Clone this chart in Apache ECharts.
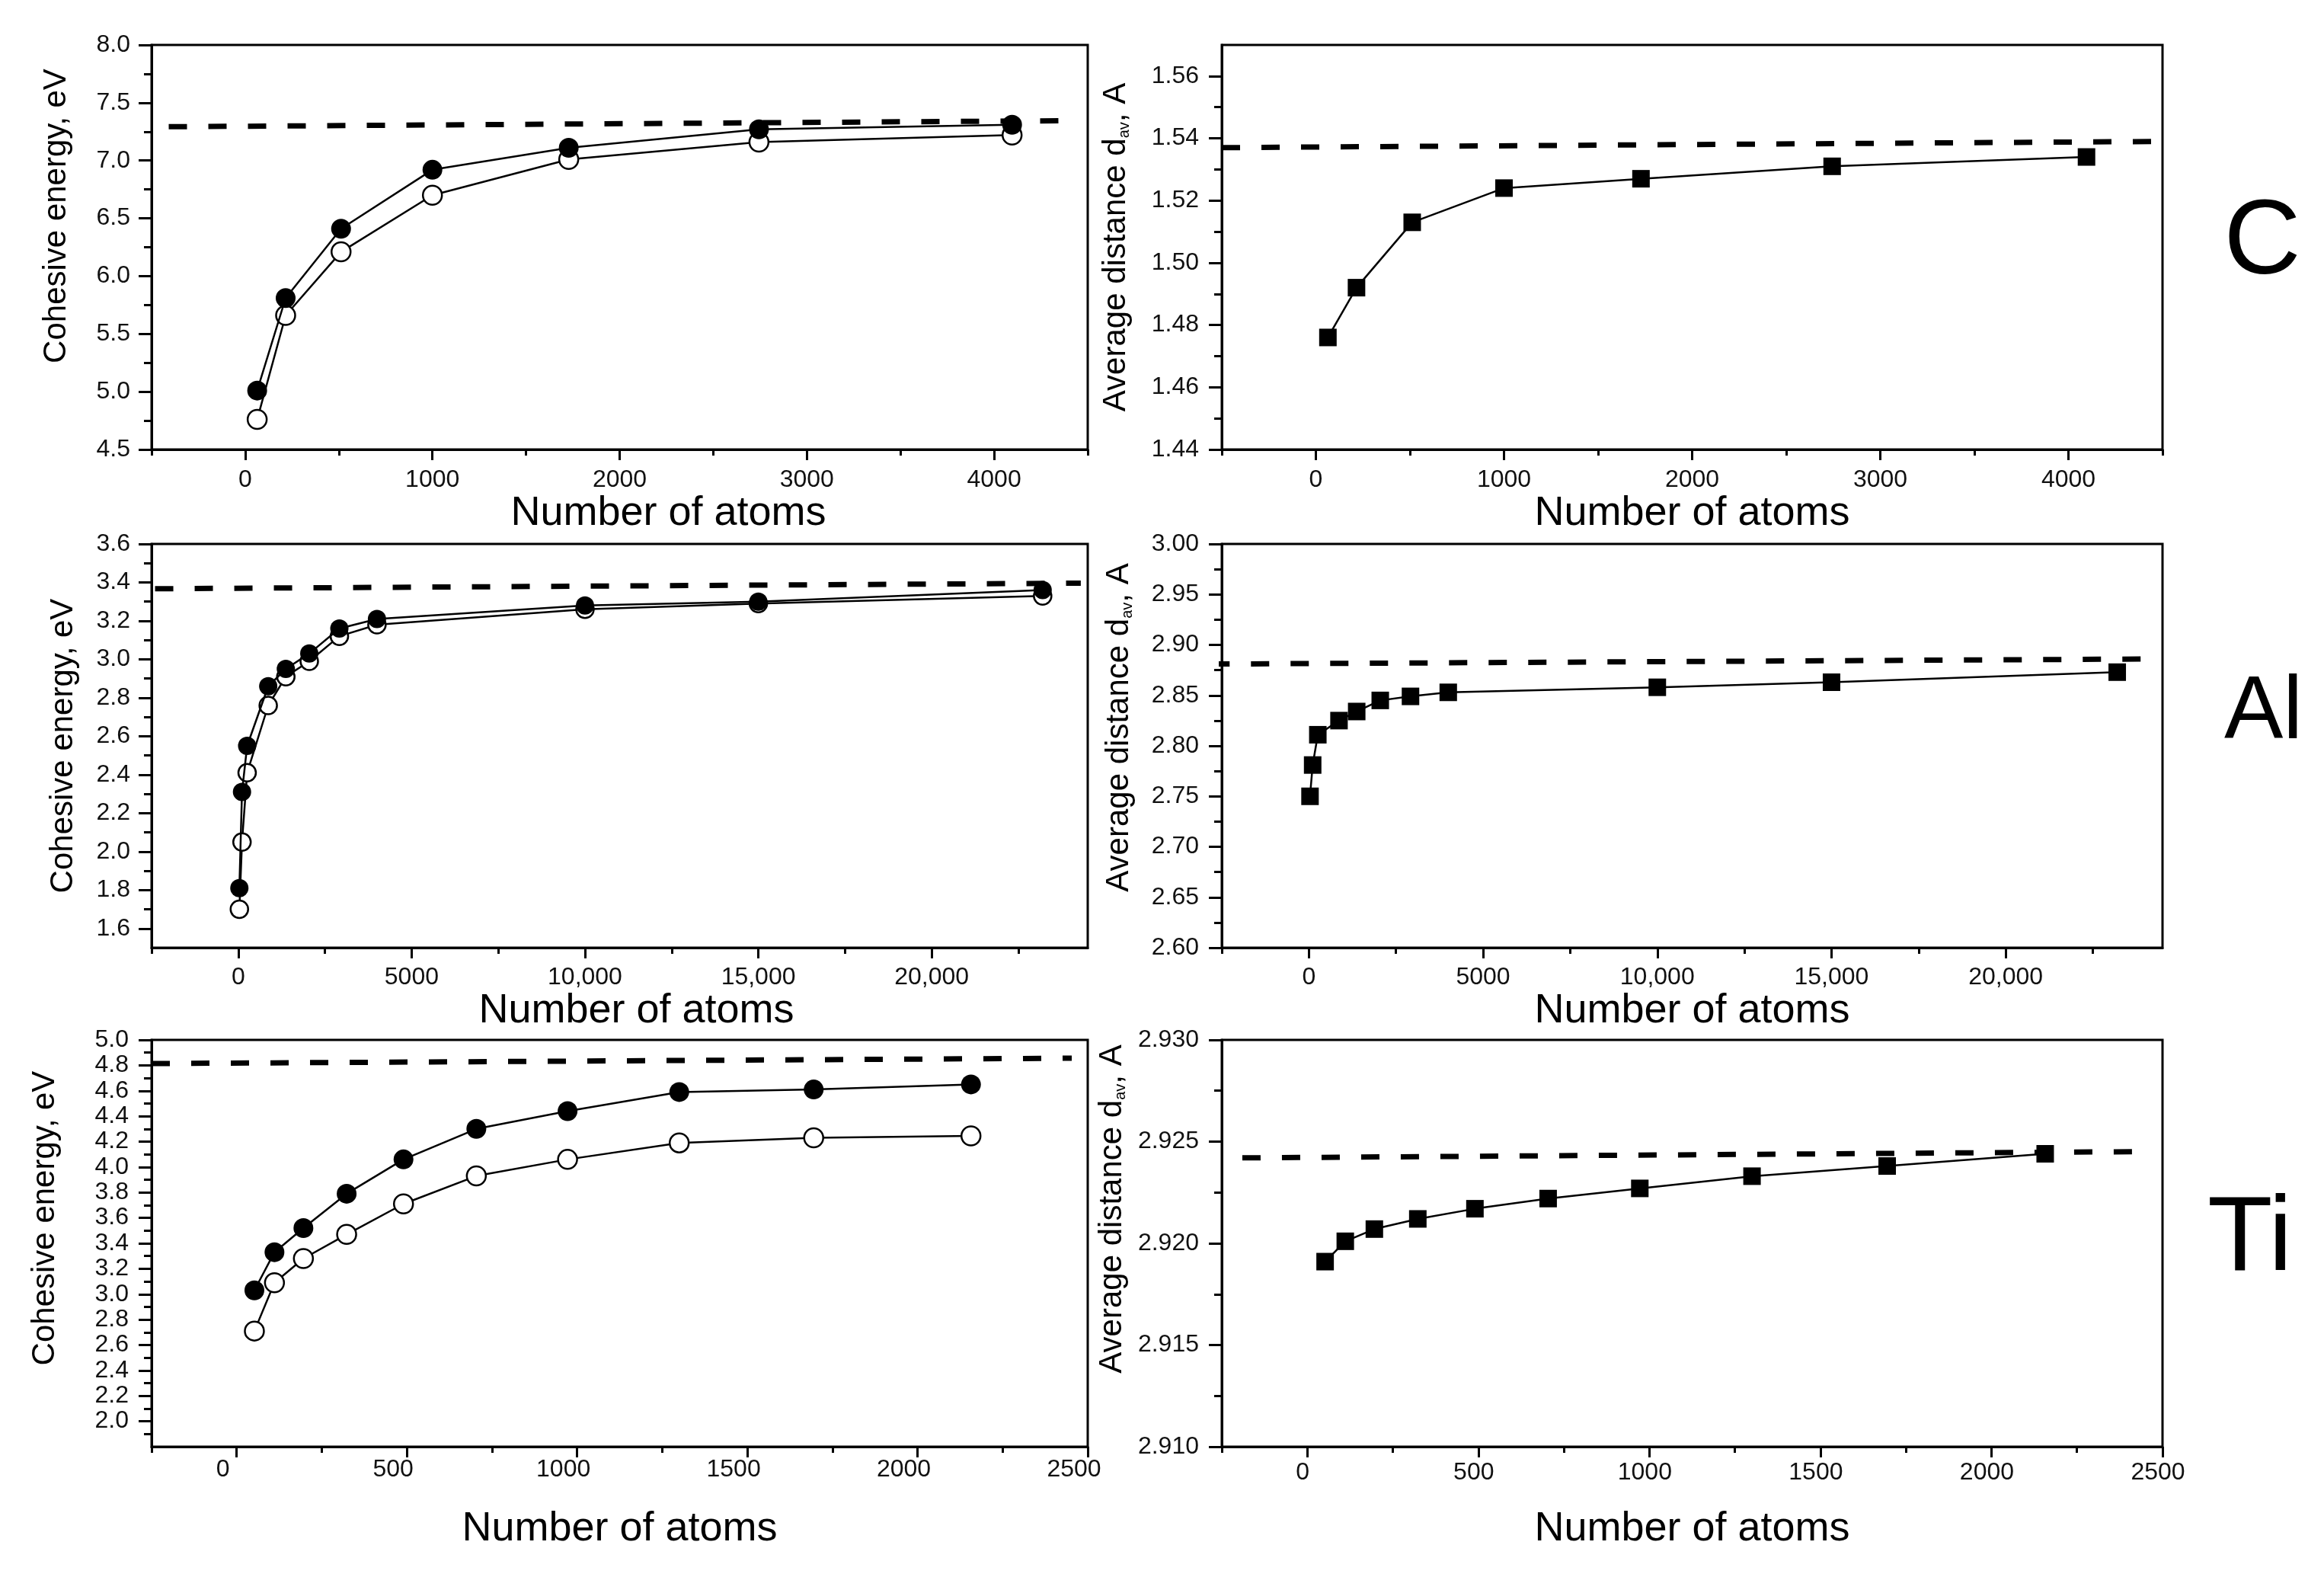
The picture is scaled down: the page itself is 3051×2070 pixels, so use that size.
<!DOCTYPE html>
<html>
<head>
<meta charset="utf-8">
<script src="https://cdn.jsdelivr.net/npm/echarts@6/dist/echarts.min.js"></script>
<style>
html,body{margin:0;padding:0;background:#fff;}
#chart{width:3051px;height:2070px;}
</style>
</head>
<body>
<div id="chart"></div>
<script>
// ---------------- DATA ----------------
// Carbon
const cAtoms = [64, 216, 512, 1000, 1728, 2744, 4096];
const cEnergyFilled = [5.01, 5.81, 6.41, 6.92, 7.11, 7.27, 7.31];
const cEnergyOpen = [4.76, 5.66, 6.21, 6.70, 7.01, 7.16, 7.22];
const cDistance = [1.476, 1.492, 1.513, 1.524, 1.527, 1.531, 1.534];
const cEnergyRefX = [-620, 4400];
const cEnergyRefY = [7.29, 7.345];
const cDistRefX = [-500, 4500];
const cDistRefY = [1.537, 1.539];

// Aluminium
const alAtoms = [32, 108, 256, 864, 1372, 2048, 2916, 4000, 10000, 15000, 23200];
const alEnergyFilled = [1.81, 2.31, 2.55, 2.86, 2.95, 3.03, 3.16, 3.21, 3.28, 3.30, 3.36];
const alEnergyOpen = [1.70, 2.05, 2.41, 2.76, 2.91, 2.99, 3.12, 3.18, 3.26, 3.29, 3.33];
const alDistance = [2.750, 2.781, 2.811, 2.825, 2.834, 2.845, 2.849, 2.853, 2.858, 2.863, 2.873];
const alEnergyRefX = [-2400, 24300];
const alEnergyRefY = [3.367, 3.396];
const alDistRefX = [-2800, 24000];
const alDistRefY = [2.881, 2.886];

// Titanium
const tiAtoms = [52, 111, 196, 323, 490, 704, 972, 1300, 1695, 2157];
const tiEnergyFilled = [3.03, 3.33, 3.52, 3.79, 4.06, 4.30, 4.44, 4.59, 4.61, 4.65];
const tiEnergyOpen = [2.71, 3.09, 3.28, 3.47, 3.71, 3.93, 4.06, 4.19, 4.23, 4.245];
const tiDistance = [2.9191, 2.9201, 2.9207, 2.9212, 2.9217, 2.9222, 2.9227, 2.9233, 2.9238, 2.9244];
const tiEnergyRefX = [-250, 2453];
const tiEnergyRefY = [4.814, 4.856];
const tiDistRefX = [-190, 2465];
const tiDistRefY = [2.9242, 2.92451];

// ---------------- TICKS ----------------
const cXTicks = [0, 1000, 2000, 3000, 4000];
const cXTickLabels = ['0', '1000', '2000', '3000', '4000'];
const cXMinor = [-500, 500, 1500, 2500, 3500, 4500];
const cEYTicks = [4.5, 5.0, 5.5, 6.0, 6.5, 7.0, 7.5, 8.0];
const cEYTickLabels = ['4.5', '5.0', '5.5', '6.0', '6.5', '7.0', '7.5', '8.0'];
const cEYMinor = [4.75, 5.25, 5.75, 6.25, 6.75, 7.25, 7.75];
const cDYTicks = [1.44, 1.46, 1.48, 1.50, 1.52, 1.54, 1.56];
const cDYTickLabels = ['1.44', '1.46', '1.48', '1.50', '1.52', '1.54', '1.56'];
const cDYMinor = [1.45, 1.47, 1.49, 1.51, 1.53, 1.55];

const alXTicks = [0, 5000, 10000, 15000, 20000];
const alXTickLabels = ['0', '5000', '10,000', '15,000', '20,000'];
const alXMinor = [-2500, 2500, 7500, 12500, 17500, 22500];
const alEYTicks = [1.6, 1.8, 2.0, 2.2, 2.4, 2.6, 2.8, 3.0, 3.2, 3.4, 3.6];
const alEYTickLabels = ['1.6', '1.8', '2.0', '2.2', '2.4', '2.6', '2.8', '3.0', '3.2', '3.4', '3.6'];
const alEYMinor = [1.7, 1.9, 2.1, 2.3, 2.5, 2.7, 2.9, 3.1, 3.3, 3.5];
const alDYTicks = [2.60, 2.65, 2.70, 2.75, 2.80, 2.85, 2.90, 2.95, 3.00];
const alDYTickLabels = ['2.60', '2.65', '2.70', '2.75', '2.80', '2.85', '2.90', '2.95', '3.00'];
const alDYMinor = [2.625, 2.675, 2.725, 2.775, 2.825, 2.875, 2.925, 2.975];

const tiXTicks = [0, 500, 1000, 1500, 2000, 2500];
const tiXTickLabels = ['0', '500', '1000', '1500', '2000', '2500'];
const tiXMinor = [-250, 250, 750, 1250, 1750, 2250];
const tiEYTicks = [2.0, 2.2, 2.4, 2.6, 2.8, 3.0, 3.2, 3.4, 3.6, 3.8, 4.0, 4.2, 4.4, 4.6, 4.8, 5.0];
const tiEYTickLabels = ['2.0', '2.2', '2.4', '2.6', '2.8', '3.0', '3.2', '3.4', '3.6', '3.8', '4.0', '4.2', '4.4', '4.6', '4.8', '5.0'];
const tiEYMinor = [1.9, 2.1, 2.3, 2.5, 2.7, 2.9, 3.1, 3.3, 3.5, 3.7, 3.9, 4.1, 4.3, 4.5, 4.7, 4.9];
const tiDYTicks = [2.910, 2.915, 2.920, 2.925, 2.930];
const tiDYTickLabels = ['2.910', '2.915', '2.920', '2.925', '2.930'];
const tiDYMinor = [2.9125, 2.9175, 2.9225, 2.9275];

// ---------------- BUILD ----------------
const FONT = '"Liberation Sans", Arial, Helvetica, sans-serif';
const BLACK = '#000';

function lookup(vals, labels) {
  return function (v) {
    for (let i = 0; i < vals.length; i++) {
      if (Math.abs(vals[i] - v) < 1e-7) return labels[i];
    }
    return '';
  };
}

const xAxes = [];
const yAxes = [];
const grids = [];
const series = [];

function addPanel(p) {
  const gi = grids.length;
  grids.push({
    left: p.grid[0], top: p.grid[1], width: p.grid[2], height: p.grid[3],
    show: true, borderColor: BLACK, borderWidth: 3, backgroundColor: 'transparent'
  });
  const xi = xAxes.length;
  xAxes.push({
    type: 'value', gridIndex: gi, min: p.xMin, max: p.xMax, position: 'bottom',
    axisLine: { show: true, onZero: false, lineStyle: { color: BLACK, width: 3 } },
    axisTick: { show: true, customValues: p.xTicks, length: 14, lineStyle: { color: BLACK, width: 3 } },
    axisLabel: {
      show: true, customValues: p.xTicks, formatter: lookup(p.xTicks, p.xLabels),
      fontSize: 32, fontFamily: FONT, color: '#111', margin: p.xLabelMargin,
      padding: p.xLabelPad || 0
    },
    splitLine: { show: false },
    name: 'Number of atoms', nameLocation: 'middle', nameGap: p.xNameGap,
    nameTextStyle: { fontSize: 54, fontFamily: FONT, color: BLACK, padding: p.xNamePad || 0 }
  });
  xAxes.push({
    type: 'value', gridIndex: gi, min: p.xMin, max: p.xMax, position: 'bottom',
    axisLine: { show: false, onZero: false },
    axisTick: { show: true, customValues: p.xMinor, length: 8, lineStyle: { color: BLACK, width: 3 } },
    axisLabel: { show: false },
    splitLine: { show: false }
  });
  const yi = yAxes.length;
  yAxes.push({
    type: 'value', gridIndex: gi, min: p.yMin, max: p.yMax, position: 'left',
    axisLine: { show: true, onZero: false, lineStyle: { color: BLACK, width: 3 } },
    axisTick: { show: true, customValues: p.yTicks, length: 17, lineStyle: { color: BLACK, width: 3 } },
    axisLabel: {
      show: true, customValues: p.yTicks, formatter: lookup(p.yTicks, p.yLabels),
      fontSize: 32, fontFamily: FONT, color: '#111', margin: p.yLabelMargin
    },
    splitLine: { show: false },
    name: p.yName, nameLocation: 'middle', nameGap: p.yNameGap,
    nameTextStyle: {
      fontSize: 42, fontFamily: FONT, color: BLACK, padding: p.yNamePad || 0,
      rich: { s: { fontSize: 20, fontFamily: FONT, color: BLACK, verticalAlign: 'bottom' } }
    }
  });
  yAxes.push({
    type: 'value', gridIndex: gi, min: p.yMin, max: p.yMax, position: 'left',
    axisLine: { show: false, onZero: false },
    axisTick: { show: true, customValues: p.yMinor, length: 10, lineStyle: { color: BLACK, width: 3 } },
    axisLabel: { show: false },
    splitLine: { show: false }
  });

  // dashed reference line
  series.push({
    type: 'line', xAxisIndex: xi, yAxisIndex: yi, symbol: 'none', clip: false, silent: true,
    data: p.refX.map((x, i) => [x, p.refY[i]]),
    lineStyle: { color: BLACK, width: 7, type: [24, 28] }, z: 2
  });
  p.marks.forEach(m => {
    series.push({
      type: 'line', xAxisIndex: xi, yAxisIndex: yi,
      data: p.atoms.map((x, i) => [x, m.values[i]]),
      symbol: m.symbol, symbolSize: m.size, showAllSymbol: true,
      lineStyle: { color: BLACK, width: 2.5 },
      itemStyle: { color: m.fill, borderColor: BLACK, borderWidth: m.border },
      z: m.z
    });
  });
}

const LX = 199, RX = 1604, LW = 1229, RW = 1235;
const yNameC = 'Cohesive energy, eV';
const yNameD = 'Average distance d{s|av}, A';

// Row 1: Carbon
addPanel({
  grid: [LX, 59, LW, 531], xMin: -500, xMax: 4500, xTicks: cXTicks, xLabels: cXTickLabels, xMinor: cXMinor,
  yMin: 4.5, yMax: 8.0, yTicks: cEYTicks, yLabels: cEYTickLabels, yMinor: cEYMinor,
  xLabelMargin: 24, xNameGap: 51, xNamePad: [0, 0, 0, 128],
  yLabelMargin: 28, yName: yNameC, yNameGap: 104, yNamePad: [0, 0, 0, 82],
  refX: cEnergyRefX, refY: cEnergyRefY, atoms: cAtoms,
  marks: [
    { values: cEnergyOpen, symbol: 'circle', size: 25, fill: '#fff', border: 2.5, z: 3 },
    { values: cEnergyFilled, symbol: 'circle', size: 26, fill: BLACK, border: 0, z: 4 }
  ]
});
addPanel({
  grid: [RX, 59, RW, 531], xMin: -500, xMax: 4500, xTicks: cXTicks, xLabels: cXTickLabels, xMinor: cXMinor,
  yMin: 1.44, yMax: 1.57, yTicks: cDYTicks, yLabels: cDYTickLabels, yMinor: cDYMinor,
  xLabelMargin: 24, xNameGap: 54,
  yLabelMargin: 30, yName: yNameD, yNameGap: 118,
  refX: cDistRefX, refY: cDistRefY, atoms: cAtoms,
  marks: [
    { values: cDistance, symbol: 'rect', size: 23, fill: BLACK, border: 0, z: 4 }
  ]
});

// Row 2: Aluminium
addPanel({
  grid: [LX, 714, LW, 530], xMin: -2500, xMax: 24500, xTicks: alXTicks, xLabels: alXTickLabels, xMinor: alXMinor,
  yMin: 1.5, yMax: 3.6, yTicks: alEYTicks, yLabels: alEYTickLabels, yMinor: alEYMinor,
  xLabelMargin: 23, xNameGap: 47, xNamePad: [0, 0, 0, 44],
  yLabelMargin: 28, yName: yNameC, yNameGap: 95,
  refX: alEnergyRefX, refY: alEnergyRefY, atoms: alAtoms,
  marks: [
    { values: alEnergyOpen, symbol: 'circle', size: 23, fill: '#fff', border: 2.5, z: 3 },
    { values: alEnergyFilled, symbol: 'circle', size: 24, fill: BLACK, border: 0, z: 4 }
  ]
});
addPanel({
  grid: [RX, 714, RW, 530], xMin: -2500, xMax: 24500, xTicks: alXTicks, xLabels: alXTickLabels, xMinor: alXMinor,
  yMin: 2.60, yMax: 3.00, yTicks: alDYTicks, yLabels: alDYTickLabels, yMinor: alDYMinor,
  xLabelMargin: 23, xNameGap: 47,
  yLabelMargin: 30, yName: yNameD, yNameGap: 114, yNamePad: [0, 0, 0, 48],
  refX: alDistRefX, refY: alDistRefY, atoms: alAtoms,
  marks: [
    { values: alDistance, symbol: 'rect', size: 23, fill: BLACK, border: 0, z: 4 }
  ]
});

// Row 3: Titanium
addPanel({
  grid: [LX, 1365, LW, 534], xMin: -250, xMax: 2500, xTicks: tiXTicks, xLabels: tiXTickLabels, xMinor: tiXMinor,
  yMin: 1.8, yMax: 5.0, yTicks: tiEYTicks, yLabels: tiEYTickLabels, yMinor: tiEYMinor,
  xLabelMargin: 14, xLabelPad: [0, 36, 0, 0], xNameGap: 81,
  yLabelMargin: 30, yName: yNameC, yNameGap: 119, yNamePad: [0, 0, 0, 66],
  refX: tiEnergyRefX, refY: tiEnergyRefY, atoms: tiAtoms,
  marks: [
    { values: tiEnergyOpen, symbol: 'circle', size: 25, fill: '#fff', border: 2.5, z: 3 },
    { values: tiEnergyFilled, symbol: 'circle', size: 26, fill: BLACK, border: 0, z: 4 }
  ]
});
addPanel({
  grid: [RX, 1365, RW, 534], xMin: -250, xMax: 2500, xTicks: tiXTicks, xLabels: tiXTickLabels, xMinor: tiXMinor,
  yMin: 2.910, yMax: 2.930, yTicks: tiDYTicks, yLabels: tiDYTickLabels, yMinor: tiDYMinor,
  xLabelMargin: 18, xLabelPad: [0, 12, 0, 0], xNameGap: 81,
  yLabelMargin: 30, yName: yNameD, yNameGap: 123, yNamePad: [0, 0, 0, 90],
  refX: tiDistRefX, refY: tiDistRefY, atoms: tiAtoms,
  marks: [
    { values: tiDistance, symbol: 'rect', size: 23, fill: BLACK, border: 0, z: 4 }
  ]
});

const elementLabels = ['C', 'Al', 'Ti'];

const chart = echarts.init(document.getElementById('chart'), null, { renderer: 'canvas' });
chart.setOption({
  backgroundColor: '#fff',
  animation: false,
  grid: grids,
  xAxis: xAxes,
  yAxis: yAxes,
  series: series,
  graphic: [
    { type: 'text', x: 2970, y: 320, style: { text: elementLabels[0], fontSize: 140, fontFamily: FONT, fill: BLACK, align: 'center', verticalAlign: 'middle', textAlign: 'center', textVerticalAlign: 'middle' } },
    { type: 'text', x: 2920, y: 937, style: { text: elementLabels[1], fontSize: 116, fontFamily: FONT, fill: BLACK, align: 'left', verticalAlign: 'middle', textAlign: 'left', textVerticalAlign: 'middle' } },
    { type: 'text', x: 2898, y: 1628, style: { text: elementLabels[2], fontSize: 140, fontFamily: FONT, fill: BLACK, align: 'left', verticalAlign: 'middle', textAlign: 'left', textVerticalAlign: 'middle' } }
  ]
});
</script>
</body>
</html>
